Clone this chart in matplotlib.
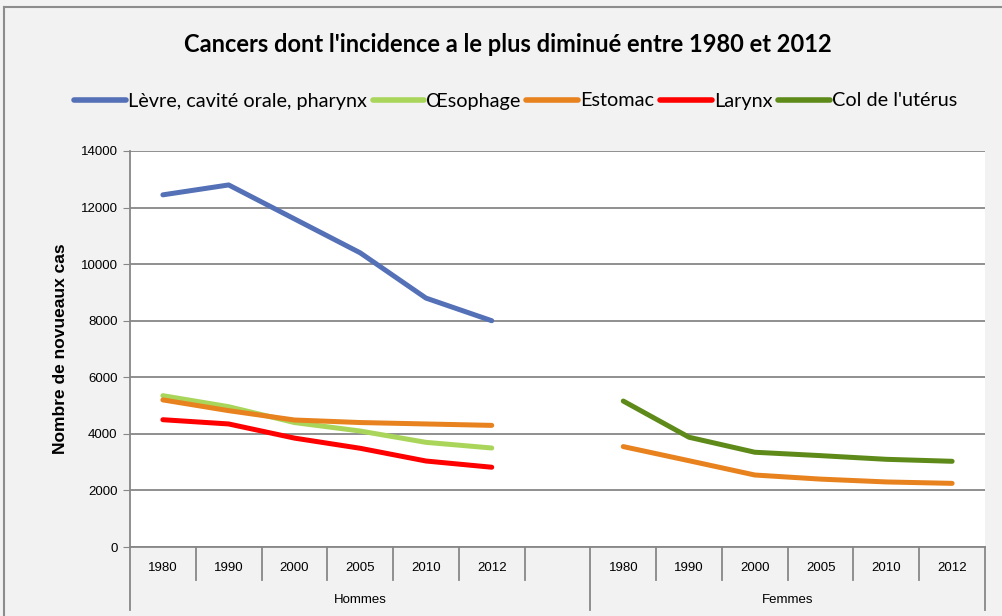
import numpy as np
import matplotlib.pyplot as plt
import matplotlib.transforms as mtransforms

# Données (lecture du graphique)
annees = ["1980", "1990", "2000", "2005", "2010", "2012"]
groupes = ["Hommes", "Femmes"]

levre_h = [12450, 12800, 11600, 10400, 8800, 8000]
oesophage_h = [5350, 4960, 4400, 4100, 3700, 3500]
estomac_h = [5200, 4820, 4490, 4400, 4350, 4300]
larynx_h = [4500, 4350, 3850, 3490, 3040, 2820]
estomac_f = [3550, 3050, 2545, 2400, 2300, 2250]
col_uterus_f = [5160, 3880, 3350, 3230, 3100, 3030]

series = [
    ("Lèvre, cavité orale, pharynx", levre_h, None, "#5470B6"),
    ("Œsophage", oesophage_h, None, "#A9D65A"),
    ("Estomac", estomac_h, estomac_f, "#E8821E"),
    ("Larynx", larynx_h, None, "#FF0000"),
    ("Col de l'utérus", None, col_uterus_f, "#5E8A1A"),
]

n_cat = len(annees) * 2 + 1  # une catégorie vide entre les groupes
x_h = np.arange(len(annees))
x_f = np.arange(len(annees)) + len(annees) + 1

fig = plt.figure(figsize=(10.03, 6.16), dpi=100, facecolor="#F2F2F2")
ax = fig.add_axes([130 / 1003, 1 - 547 / 616, 855 / 1003, 396 / 616])
ax.set_facecolor("white")

for name, vals_h, vals_f, color in series:
    label = name
    if vals_h is not None:
        ax.plot(x_h, vals_h, color=color, lw=3.6, solid_capstyle="round",
                solid_joinstyle="round", label=label)
        label = None
    if vals_f is not None:
        ax.plot(x_f, vals_f, color=color, lw=3.6, solid_capstyle="round",
                solid_joinstyle="round", label=label)

ax.set_xlim(-0.5, n_cat - 0.5)
ax.set_ylim(0, 14000)
ax.set_yticks(np.arange(0, 14001, 2000))
ax.yaxis.grid(True, color="#878787", lw=1.3)
ax.set_axisbelow(True)
ax.tick_params(axis="y", length=5, color="#878787", labelsize=9.5, pad=4)
ax.tick_params(axis="x", bottom=False, labelbottom=False)
for lab in ax.get_yticklabels():
    lab.set_fontfamily("Liberation Sans")

for side in ["top", "right", "bottom"]:
    ax.spines[side].set_visible(False)
ax.spines["left"].set_color("#878787")
ax.spines["left"].set_linewidth(1.3)

# Axe des catégories sur deux niveaux
trans = mtransforms.blended_transform_factory(ax.transData, ax.transAxes)
short = -33 / 396
long_ = -63 / 396
ax.plot([-0.5, n_cat - 0.5], [0, 0], transform=trans, color="#878787",
        lw=1.3, clip_on=False)
for k in range(n_cat + 1):
    xb = k - 0.5
    bottom = long_ if k in (0, len(annees) + 1, n_cat) else short
    ax.plot([xb, xb], [0, bottom], transform=trans, color="#878787",
            lw=1.3, clip_on=False)

for xs in (x_h, x_f):
    for xi, a in zip(xs, annees):
        ax.text(xi, -21 / 396, a, transform=trans, ha="center", va="center",
                fontsize=9.5, family="Liberation Sans")

ax.text((-0.5 + len(annees) + 0.5) / 2, -53 / 396, groupes[0], transform=trans,
        ha="center", va="center", fontsize=9.5, family="Liberation Sans")
ax.text((len(annees) + 0.5 + n_cat - 0.5) / 2, -53 / 396, groupes[1],
        transform=trans, ha="center", va="center", fontsize=9.5,
        family="Liberation Sans")

ax.set_ylabel("Nombre de novueaux cas", fontsize=12.5, fontweight="bold",
              family="Liberation Sans", labelpad=9)

fig.text(0.506, 1 - 45 / 616, "Cancers dont l'incidence a le plus diminué entre 1980 et 2012",
         ha="center", va="center", fontsize=17, fontweight="bold", family="Lato")

leg = fig.legend(loc="center", bbox_to_anchor=(0.514, 1 - 101 / 616), ncol=5,
                 frameon=False, handlelength=2.6, handletextpad=0.1,
                 columnspacing=0.3, prop={"family": "Lato", "size": 14.3})
for h in leg.legend_handles:
    h.set_linewidth(4)

# Cadre extérieur
fig.add_artist(plt.Line2D([4 / 1003, 4 / 1003], [0, 1 - 7 / 616],
                          transform=fig.transFigure, color="#8C8C8C", lw=1.5))
fig.add_artist(plt.Line2D([4 / 1003, 1], [1 - 7 / 616, 1 - 7 / 616],
                          transform=fig.transFigure, color="#8C8C8C", lw=1.5))

fig.savefig("out.png", dpi=100, facecolor=fig.get_facecolor())
